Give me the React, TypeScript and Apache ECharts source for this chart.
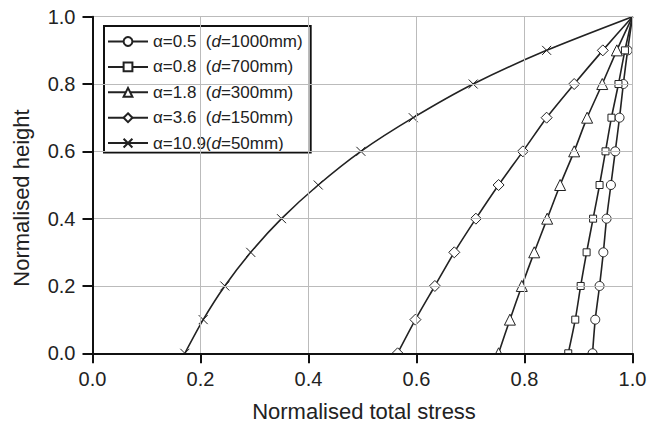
import React, { useEffect, useRef } from "react";
import * as echarts from "echarts";

const heights = [0, 0.1, 0.2, 0.3, 0.4, 0.5, 0.6, 0.7, 0.8, 0.9, 1.0];
const stressA05 = [0.926, 0.931, 0.939, 0.946, 0.952, 0.96, 0.968, 0.976, 0.983, 0.991, 1.0];
const stressA08 = [0.881, 0.894, 0.904, 0.915, 0.927, 0.939, 0.95, 0.961, 0.974, 0.986, 1.0];
const stressA18 = [0.752, 0.773, 0.795, 0.818, 0.842, 0.866, 0.892, 0.916, 0.944, 0.971, 1.0];
const stressA36 = [0.565, 0.598, 0.634, 0.67, 0.71, 0.752, 0.797, 0.841, 0.892, 0.945, 1.0];
const stressA109 = [0.171, 0.205, 0.245, 0.293, 0.35, 0.418, 0.497, 0.594, 0.705, 0.841, 1.0];

const seriesNames = [
  "α=0.5  (d=1000mm)",
  "α=0.8  (d=700mm)",
  "α=1.8  (d=300mm)",
  "α=3.6  (d=150mm)",
  "α=10.9(d=50mm)",
];
const legendParts = [
  ["α=0.5  (", "=1000mm)"],
  ["α=0.8  (", "=700mm)"],
  ["α=1.8  (", "=300mm)"],
  ["α=3.6  (", "=150mm)"],
  ["α=10.9(", "=50mm)"],
];
const seriesData = [stressA05, stressA08, stressA18, stressA36, stressA109];
const symbols = [
  "circle",
  "rect",
  "triangle",
  "diamond",
  "path://M0,0L10,10M10,0L0,10",
];
const symbolSizes = [9, 7, 11, 11, 9];

const FONT = "Liberation Sans, Arial, sans-serif";

export default function App() {
  const ref = useRef<HTMLDivElement>(null);
  useEffect(() => {
    if (!ref.current) return;
    const chart = echarts.init(ref.current, undefined, { renderer: "svg" });
    const grid = { left: 92.5, right: 28.5, top: 16.7, bottom: 69.7 };
    chart.setOption({
      animation: false,
      backgroundColor: "#fff",
      grid,
      legend: {
        orient: "vertical",
        left: 104,
        top: 26,
        data: seriesNames,
        itemWidth: 40,
        itemHeight: 11,
        itemGap: 8.4,
        padding: [7, 8, 1, 3],
        borderColor: "#111",
        borderWidth: 2,
        borderRadius: 0,
        backgroundColor: "#fff",
        textStyle: {
          fontFamily: FONT,
          fontSize: 17,
          color: "#222",
          rich: {
            a: { fontFamily: FONT, fontSize: 17, color: "#222", lineHeight: 18 },
            i: { fontFamily: FONT, fontSize: 17, color: "#222", fontStyle: "italic", lineHeight: 18 },
          },
        },
        formatter: (name: string) => {
          const idx = seriesNames.indexOf(name);
          const p = legendParts[idx];
          return `{a|${p[0]}}{i|d}{a|${p[1]}}`;
        },
      },
      xAxis: [
        {
          type: "value",
          min: 0,
          max: 1,
          interval: 0.2,
          position: "bottom",
          z: 5,
          axisLine: { lineStyle: { color: "#111", width: 2 } },
          axisTick: { show: true, inside: false, length: 10, lineStyle: { color: "#111", width: 2 } },
          axisLabel: {
            margin: 16,
            fontFamily: FONT,
            fontSize: 20,
            color: "#222",
            formatter: (v: number) => v.toFixed(1),
          },
          splitLine: { show: true, lineStyle: { color: "#bbb", width: 1 } },
        },
        {
          type: "value",
          min: 0,
          max: 1,
          interval: 0.2,
          position: "top",
          axisLine: { show: true, lineStyle: { color: "#888", width: 1 } },
          axisTick: { show: true, inside: true, length: 8, lineStyle: { color: "#444", width: 1 } },
          axisLabel: { show: false },
          splitLine: { show: false },
        },
      ],
      yAxis: [
        {
          type: "value",
          min: 0,
          max: 1,
          interval: 0.2,
          position: "left",
          z: 5,
          axisLine: { show: true, lineStyle: { color: "#111", width: 2 } },
          axisTick: { show: true, inside: false, length: 10, lineStyle: { color: "#111", width: 2 } },
          axisLabel: {
            margin: 17,
            fontFamily: FONT,
            fontSize: 20,
            color: "#222",
            formatter: (v: number) => v.toFixed(1),
          },
          splitLine: { show: true, lineStyle: { color: "#bbb", width: 1 } },
        },
        {
          type: "value",
          min: 0,
          max: 1,
          interval: 0.2,
          position: "right",
          axisLine: { show: true, lineStyle: { color: "#555", width: 1 } },
          axisTick: { show: true, inside: false, length: 8, lineStyle: { color: "#444", width: 1 } },
          axisLabel: { show: false },
          splitLine: { show: false },
        },
      ],
      series: seriesNames.map((name, i) => ({
        name,
        type: "line",
        xAxisIndex: 0,
        yAxisIndex: 0,
        data: seriesData[i].map((x, j) =>
          j === heights.length - 1
            ? { value: [x, heights[j]], symbol: "none" }
            : { value: [x, heights[j]] }
        ),
        smooth: 0.25,
        symbol: symbols[i],
        symbolSize: symbolSizes[i],
        showAllSymbol: true,
        lineStyle: { color: "#222", width: 1.6 },
        itemStyle: { color: "#fff", borderColor: "#222", borderWidth: 1 },
        z: 2,
      })),
      graphic: [
        {
          type: "rect",
          z: 3,
          shape: { x: 80, y: 354.3, width: 570, height: 12 },
          style: { fill: "#fff" },
        },
        {
          type: "text",
          x: 364,
          y: 411,
          style: {
            text: "Normalised total stress",
            font: `22px ${FONT}`,
            fill: "#222",
            align: "center",
            verticalAlign: "middle",
          },
        },
        {
          type: "text",
          x: 21,
          y: 198,
          rotation: Math.PI / 2,
          style: {
            text: "Normalised height",
            font: `22px ${FONT}`,
            fill: "#222",
            align: "center",
            verticalAlign: "middle",
          },
        },
      ],
    });
    return () => chart.dispose();
  }, []);
  return <div ref={ref} style={{ width: 661, height: 423, position: "absolute", left: 0, top: 0 }} />;
}
